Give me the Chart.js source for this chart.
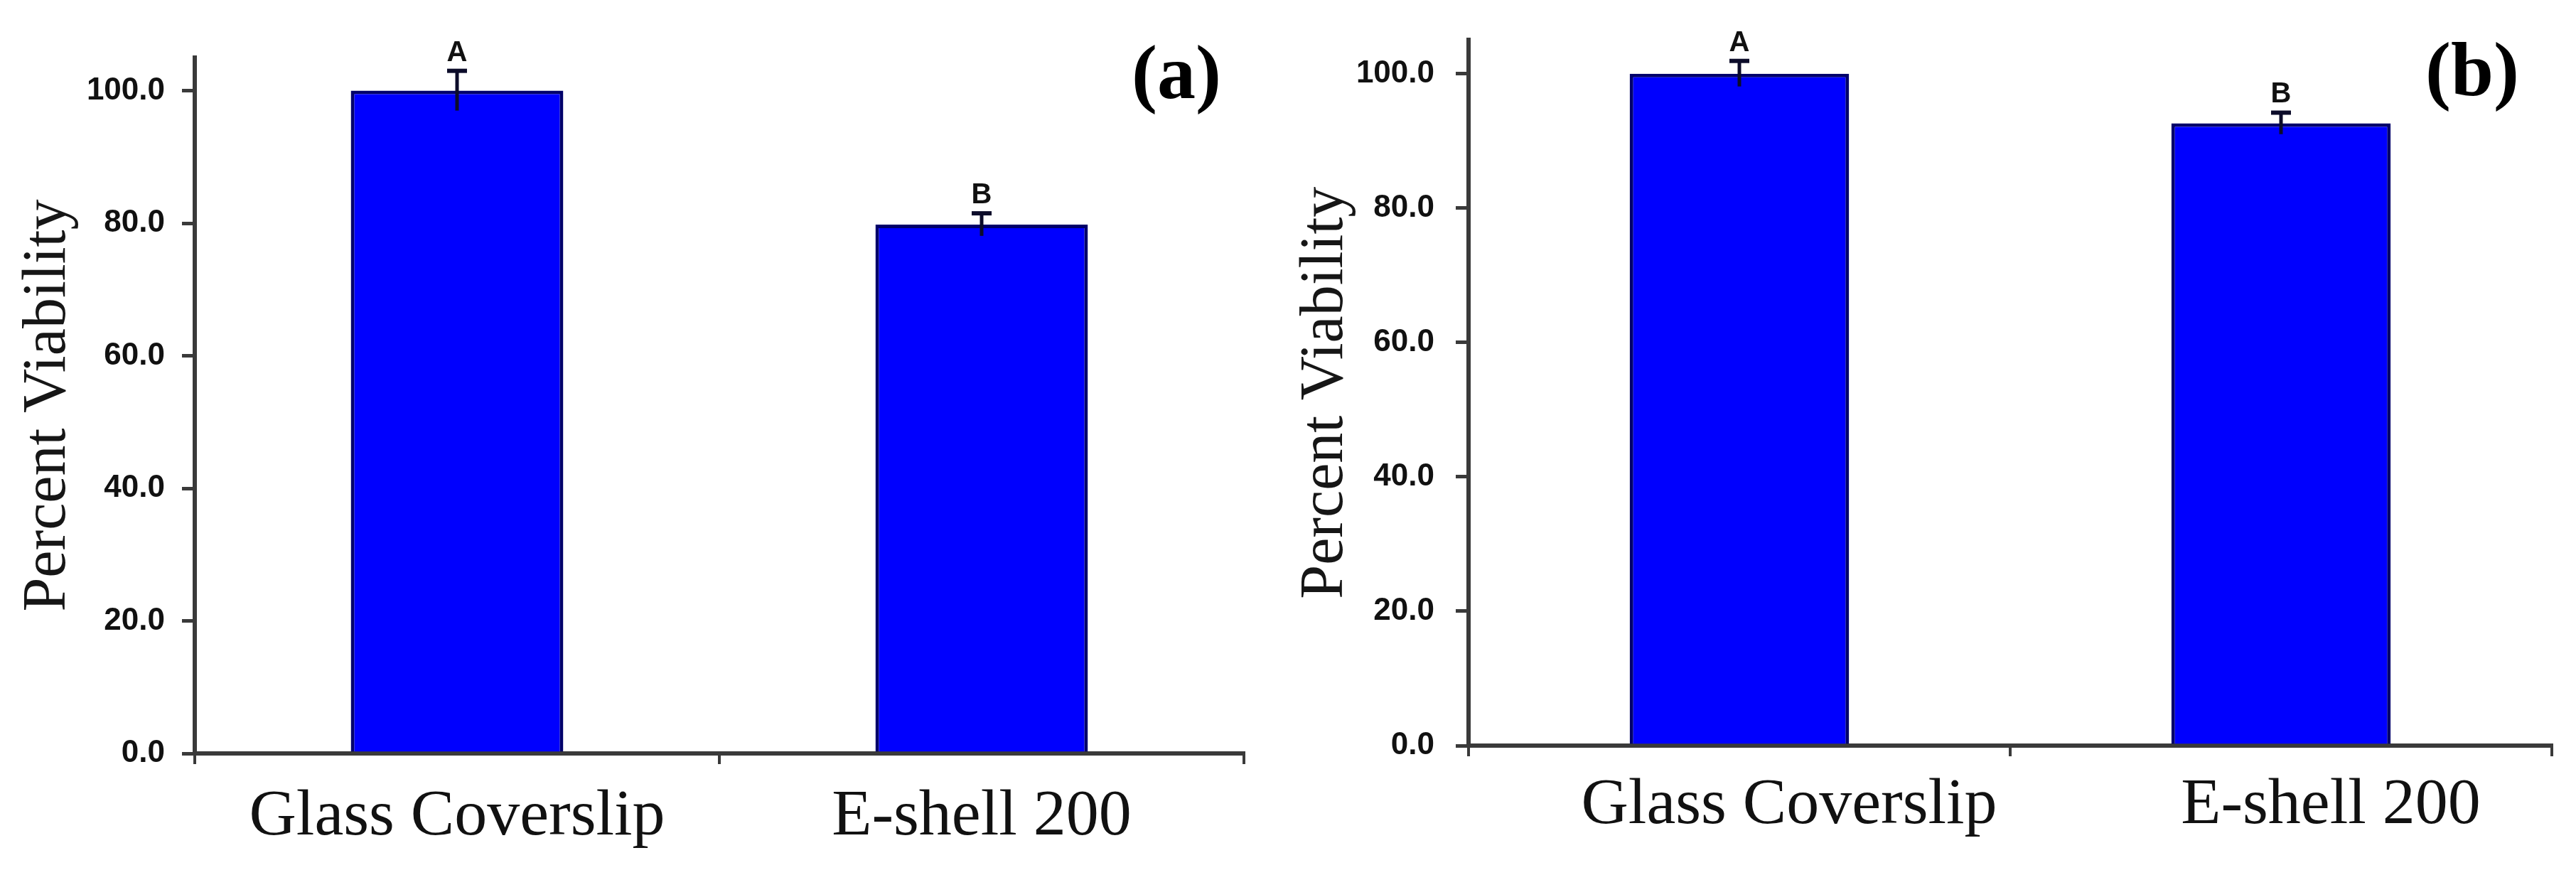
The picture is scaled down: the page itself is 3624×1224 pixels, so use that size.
<!DOCTYPE html>
<html>
<head>
<meta charset="utf-8">
<script src="https://cdn.jsdelivr.net/npm/chart.js@4.4.1/dist/chart.umd.min.js"></script>
<style>
  html, body { margin: 0; padding: 0; background: #fff; }
  #wrap { position: relative; width: 3624px; height: 1224px; overflow: hidden; }
  .panel { position: absolute; top: 0; height: 1224px; }
  #panelA { left: 0; width: 1800px; }
  #panelB { left: 1800px; width: 1824px; }
</style>
</head>
<body>
<div id="wrap">
  <div class="panel" id="panelA"><canvas id="chartA" width="1800" height="1224"></canvas></div>
  <div class="panel" id="panelB"><canvas id="chartB" width="1824" height="1224"></canvas></div>
</div>
<script>
// values
const categories = ["Glass Coverslip", "E-shell 200"];
const viabilityA = [100.0, 79.8];
const errorA = [3.0, 1.7];
const groupsA = ["A", "B"];
const viabilityB = [100.0, 92.6];
const errorB = [1.9, 1.6];
const groupsB = ["A", "B"];
const yTicks = [0, 20, 40, 60, 80, 100];
const yMax = 105;

const axisColor = "#3a3a3a";
const serif = "'Liberation Serif', 'Times New Roman', serif";
const sans = "'Liberation Sans', Arial, sans-serif";

// error bars + significance letters, placed through the y scale
function errorBarPlugin(errors, groups) {
    return {
        id: "errorBars",
        afterDatasetsDraw(chart) {
            const ctx = chart.ctx;
            const y = chart.scales.y;
            const vals = chart.data.datasets[0].data;
            ctx.save();
            chart.getDatasetMeta(0).data.forEach((bar, i) => {
                const top = y.getPixelForValue(vals[i] + errors[i]);
                const low = y.getPixelForValue(vals[i] - errors[i]);
                ctx.strokeStyle = "#0c0c2a";
                ctx.lineWidth = 5;
                ctx.beginPath();
                ctx.moveTo(bar.x, low);
                ctx.lineTo(bar.x, top);
                ctx.stroke();
                ctx.lineWidth = 6;
                ctx.beginPath();
                ctx.moveTo(bar.x - 14, top);
                ctx.lineTo(bar.x + 14, top);
                ctx.stroke();
                ctx.fillStyle = "#111";
                ctx.font = "bold 40px " + sans;
                ctx.textAlign = "center";
                ctx.textBaseline = "alphabetic";
                ctx.fillText(groups[i], bar.x, top - 14);
            });
            ctx.restore();
        }
    };
}

// "(a)" / "(b)" panel tag
function tagPlugin(text, dx, y) {
    return {
        id: "panelTag",
        afterDraw(chart) {
            const ctx = chart.ctx;
            ctx.save();
            ctx.fillStyle = "#000";
            ctx.font = "bold 108px " + serif;
            ctx.textAlign = "center";
            ctx.textBaseline = "middle";
            ctx.fillText(text, chart.chartArea.right + dx, y);
            ctx.restore();
        }
    };
}

function makeChart(id, values, errors, groups, L) {
    const ctx = document.getElementById(id).getContext("2d");
    return new Chart(ctx, {
        type: "bar",
        data: {
            labels: categories,
            datasets: [{
                data: values,
                backgroundColor: "#0000fe",
                borderColor: "#00006a",
                borderWidth: 5,
                barPercentage: 0.405,
                categoryPercentage: 1.0
            }]
        },
        options: {
            responsive: false,
            animation: false,
            devicePixelRatio: 1,
            layout: { padding: { top: L.top, right: L.right, left: 0, bottom: 0 } },
            plugins: {
                legend: { display: false },
                tooltip: { enabled: false }
            },
            scales: {
                x: {
                    offset: true,
                    afterFit: s => { s.height = L.xHeight; },
                    border: { color: axisColor, width: 6 },
                    grid: {
                        display: true, drawOnChartArea: false, offset: true,
                        color: axisColor, lineWidth: 4, tickLength: 15
                    },
                    ticks: {
                        color: "#111",
                        font: { family: serif, size: 92 },
                        padding: L.xPad,
                        labelOffset: L.xLabelOffset
                    }
                },
                y: {
                    min: 0,
                    max: yMax,
                    afterBuildTicks: s => { s.ticks = yTicks.map(v => ({ value: v })); },
                    afterFit: s => { s.width = L.yWidth; },
                    border: { color: axisColor, width: 6 },
                    grid: {
                        display: true, drawOnChartArea: false,
                        color: axisColor, lineWidth: 5, tickLength: 18
                    },
                    ticks: {
                        color: "#111",
                        font: { family: sans, size: 44, weight: "bold" },
                        padding: L.yPad,
                        callback: v => Number(v).toFixed(1)
                    },
                    title: {
                        display: true,
                        text: "Percent Viability",
                        color: "#161616",
                        font: { family: serif, size: 86 },
                        padding: { top: L.titlePad, bottom: 0 }
                    }
                }
            }
        },
        plugins: [errorBarPlugin(errors, groups), tagPlugin(L.tag, L.tagDx, L.tagY)]
    });
}

makeChart("chartA", viabilityA, errorA, groupsA, {
    top: 81, right: 50, yWidth: 274, xHeight: 164,
    xPad: 20, xLabelOffset: 0, yPad: 24, titlePad: 17,
    tag: "(a)", tagDx: -95, tagY: 110
});

makeChart("chartB", viabilityB, errorB, groupsB, {
    top: 52, right: 34, yWidth: 266, xHeight: 175,
    xPad: 15, xLabelOffset: 70, yPad: 30, titlePad: 14,
    tag: "(b)", tagDx: -112, tagY: 106
});
</script>
</body>
</html>
